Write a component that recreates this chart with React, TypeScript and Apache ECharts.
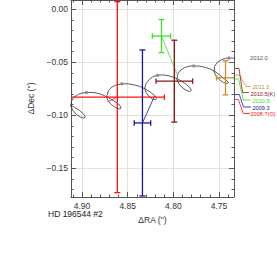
import React, { useEffect, useRef } from 'react';
import * as echarts from 'echarts';

// Model orbit (apparent path)
const orbitRA = [
  4.92737, 4.9208, 4.91423, 4.90821, 4.90274, 4.89836, 4.89617, 4.89781, 4.90164, 4.90602,
  4.90985, 4.91204, 4.9115, 4.90876, 4.90383, 4.89891, 4.89453,
  4.88796, 4.88139, 4.87591, 4.87044, 4.86496, 4.86004, 4.8573, 4.85785, 4.86058, 4.86442,
  4.8688, 4.87208, 4.87263, 4.87099, 4.86715, 4.86223, 4.8562,
  4.84963, 4.84307, 4.8365, 4.83047, 4.825, 4.82062, 4.81843, 4.81952, 4.82281, 4.82664,
  4.82993, 4.83124, 4.82993, 4.82609, 4.82226, 4.81734,
  4.81131, 4.80474, 4.79818, 4.79215, 4.78668, 4.7823, 4.78011, 4.78175, 4.78558, 4.78996,
  4.7938, 4.79599, 4.79544, 4.7927, 4.78777, 4.78285, 4.7777,
  4.7719, 4.76587, 4.75985, 4.75438, 4.74945, 4.74507, 4.74124, 4.7396, 4.74124, 4.74507,
  4.74945, 4.75329, 4.75547, 4.75493, 4.75219, 4.74727, 4.74289, 4.73851, 4.73248,
];
const orbitDec = [
  -0.087, -0.08793, -0.08981, -0.09234, -0.09543, -0.09862, -0.10143, -0.10265, -0.10172, -0.09918,
  -0.09562, -0.0914, -0.08672, -0.08297, -0.08015, -0.07884, -0.07847,
  -0.07847, -0.0794, -0.08128, -0.08362, -0.08643, -0.08925, -0.09206, -0.09393, -0.09393, -0.09206,
  -0.08925, -0.0855, -0.08128, -0.07659, -0.07331, -0.07125, -0.07031,
  -0.07031, -0.07125, -0.07284, -0.07537, -0.07819, -0.08128, -0.08409, -0.0855, -0.08475, -0.08222,
  -0.07847, -0.07425, -0.07003, -0.066, -0.06347, -0.06225,
  -0.06187, -0.06281, -0.06469, -0.06722, -0.07031, -0.0735, -0.07631, -0.07753, -0.07659, -0.07406,
  -0.0705, -0.06628, -0.06159, -0.05784, -0.05503, -0.05372, -0.05344,
  -0.05362, -0.05456, -0.05625, -0.05878, -0.06187, -0.06506, -0.06769, -0.06909, -0.07003, -0.06909,
  -0.06656, -0.063, -0.05878, -0.05409, -0.05034, -0.04753, -0.04631, -0.04594, -0.04603,
];

// Yearly markers on the orbit
const epochRA = [4.89507, 4.8562, 4.81734, 4.7777, 4.73906];
const epochDec = [-0.07847, -0.07031, -0.06225, -0.05344, -0.04594];

// Measurements
const obsLabels = ['2008.7(O)', '2009.3', '2010.5(K)', '2010.8', '2011.3'];
const obsRA = [4.8613, 4.8338, 4.7989, 4.813, 4.7429];
const obsDec = [-0.0829, -0.1072, -0.0678, -0.0253, -0.0646];
const obsRAErr = [0.0515, 0.009, 0.02, 0.01, 0.0098];
const obsDecErr = [0.09, 0.0688, 0.0386, 0.0156, 0.0161];
// Predicted positions the measurements are linked to
const modelRA: (number | null)[] = [4.8719, 4.8204, null, 4.7954, null];
const modelDec: (number | null)[] = [-0.0872, -0.0816, null, -0.0621, null];

const xTicks = [4.9, 4.85, 4.8, 4.75];
const yTicks = [0.0, -0.05, -0.1, -0.15];
const endLabel = '2012.0';
const titleText = 'HD 196544 #2';

// styles
const obsColors = ['#ff1010', '#1515a0', '#8e1616', '#3fdc2a', '#c9902a'];
const FONT = 'Liberation Sans, Arial, sans-serif';
const AX = '#555';
// legend leader lines / label positions (pixel layout)
const legendLayout = [
  { idx: 4, pts: [[234, 75], [239.5, 75], [246, 86.5], [251, 86.5]], tx: 252.5, ty: 87 },
  { idx: 2, pts: [[234, 68.5], [239, 68.5], [242.5, 92.5], [249, 92.5]], tx: 250.5, ty: 93.5 },
  { idx: 3, pts: [[234, 79], [238.5, 79], [243.3, 100], [251, 100]], tx: 252.5, ty: 100.5 },
  { idx: 1, pts: [[234, 94.5], [239.3, 94.5], [243.5, 107], [251, 107]], tx: 252.5, ty: 107.5 },
  { idx: 0, pts: [[234, 99.5], [238.3, 99.5], [243.3, 113.5], [250, 113.5]], tx: 250.5, ty: 114 },
];

function fmt(v: number, ticks: number[]) {
  const hit = ticks.some((t) => Math.abs(t - v) < 1e-6);
  if (!hit) return '';
  const s = Math.abs(v).toFixed(2);
  return v < -1e-9 ? '\u2212' + s : s;
}

export default function App() {
  const ref = useRef<HTMLDivElement>(null);
  useEffect(() => {
    if (!ref.current) return;
    const chart = echarts.init(ref.current, null, { renderer: 'svg' });

    const xMin = 4.7336;
    const xMax = 4.912;
    const yMin = -0.177;
    const yMax = 0.0087;

    const tickCommon = {
      axisLine: { show: true, onZero: false, lineStyle: { color: AX, width: 1 } },
      axisTick: { show: true, inside: true, length: 5, lineStyle: { color: AX, width: 1 } },
      minorTick: { show: true, splitNumber: 5, length: 2.5, lineStyle: { color: AX, width: 1 } },
      minorSplitLine: { show: false },
    };

    const series: any[] = [
      {
        type: 'line',
        data: orbitRA.map((r, i) => [r, orbitDec[i]]),
        showSymbol: false,
        symbol: 'none',
        clip: true,
        lineStyle: { color: '#333', width: 0.8 },
        z: 2,
        silent: true,
      },
      {
        type: 'scatter',
        data: epochRA.map((r, i) => [r, epochDec[i]]),
        symbol: 'circle',
        symbolSize: 3.5,
        itemStyle: { color: '#888' },
        z: 3,
        silent: true,
      },
    ];

    obsRA.forEach((r, i) => {
      if (modelRA[i] == null) return;
      series.push({
        type: 'line',
        data: [
          [r, obsDec[i]],
          [modelRA[i], modelDec[i]],
        ],
        showSymbol: false,
        symbol: 'none',
        clip: true,
        lineStyle: { color: obsColors[i], width: 0.8 },
        z: 4,
        silent: true,
      });
    });

    series.push({
      type: 'custom',
      clip: true,
      z: 5,
      silent: true,
      data: obsRA.map((r, i) => [r, obsDec[i], obsRAErr[i], obsDecErr[i]]),
      renderItem: (params: any, api: any) => {
        const x = api.value(0);
        const y = api.value(1);
        const ex = api.value(2);
        const ey = api.value(3);
        const c = api.coord([x, y]);
        const l = api.coord([x + ex, y]);
        const r = api.coord([x - ex, y]);
        const t = api.coord([x, y + ey]);
        const b = api.coord([x, y - ey]);
        const color = obsColors[params.dataIndex];
        const st = { stroke: color, lineWidth: 1.3 };
        const cw = 3;
        const ch = 2.7;
        return {
          type: 'group',
          children: [
            { type: 'line', shape: { x1: l[0], y1: c[1], x2: r[0], y2: c[1] }, style: st },
            { type: 'line', shape: { x1: l[0], y1: c[1] - ch, x2: l[0], y2: c[1] + ch }, style: st },
            { type: 'line', shape: { x1: r[0], y1: c[1] - ch, x2: r[0], y2: c[1] + ch }, style: st },
            { type: 'line', shape: { x1: c[0], y1: t[1], x2: c[0], y2: b[1] }, style: st },
            { type: 'line', shape: { x1: c[0] - cw, y1: t[1], x2: c[0] + cw, y2: t[1] }, style: st },
            { type: 'line', shape: { x1: c[0] - cw, y1: b[1], x2: c[0] + cw, y2: b[1] }, style: st },
          ],
        };
      },
    });

    const graphic: any[] = [
      {
        type: 'text',
        x: 48,
        y: 214,
        style: { text: titleText, fill: '#222', fontSize: 8.5, fontFamily: FONT, verticalAlign: 'middle' },
      },
      {
        type: 'text',
        x: 250,
        y: 58,
        style: { text: endLabel, fill: '#555', fontSize: 5.8, fontFamily: FONT, verticalAlign: 'middle' },
      },
    ];
    legendLayout.forEach((g) => {
      graphic.push({
        type: 'polyline',
        shape: { points: g.pts },
        style: { stroke: obsColors[g.idx], lineWidth: 0.8, fill: null },
      });
      graphic.push({
        type: 'text',
        x: g.tx,
        y: g.ty,
        style: {
          text: obsLabels[g.idx],
          fill: obsColors[g.idx],
          fontSize: 5.6,
          fontFamily: FONT,
          verticalAlign: 'middle',
        },
      });
    });

    chart.setOption({
      animation: false,
      backgroundColor: '#fff',
      grid: { left: 71, top: -1, width: 163, height: 198, containLabel: false },
      xAxis: [
        {
          type: 'value',
          position: 'bottom',
          min: xMin,
          max: xMax,
          inverse: true,
          splitNumber: 4,
          ...tickCommon,
          splitLine: { show: true, lineStyle: { color: '#e2e2e2', width: 1 } },
          axisLabel: {
            show: true,
            color: '#333',
            fontSize: 8.5,
            fontFamily: FONT,
            margin: 4,
            formatter: (v: number) => fmt(v, xTicks),
          },
          name: "\u0394RA ('')",
          nameLocation: 'middle',
          nameGap: 18,
          nameTextStyle: { color: '#333', fontSize: 8.5, fontFamily: FONT },
        },
        {
          type: 'value',
          position: 'top',
          min: xMin,
          max: xMax,
          inverse: true,
          splitNumber: 4,
          ...tickCommon,
          splitLine: { show: false },
          axisLabel: { show: false },
        },
      ],
      yAxis: [
        {
          type: 'value',
          position: 'left',
          min: yMin,
          max: yMax,
          splitNumber: 4,
          ...tickCommon,
          splitLine: { show: true, lineStyle: { color: '#e2e2e2', width: 1 } },
          axisLabel: {
            show: true,
            color: '#333',
            fontSize: 8.5,
            fontFamily: FONT,
            margin: 3,
            formatter: (v: number) => fmt(v, yTicks),
          },
          name: "\u0394Dec ('')",
          nameLocation: 'middle',
          nameGap: 31,
          nameTextStyle: { color: '#333', fontSize: 8.5, fontFamily: FONT },
        },
        {
          type: 'value',
          position: 'right',
          min: yMin,
          max: yMax,
          splitNumber: 4,
          ...tickCommon,
          splitLine: { show: false },
          axisLabel: { show: false },
        },
      ],
      series,
      graphic,
    });

    return () => chart.dispose();
  }, []);

  return (
    <div
      ref={ref}
      style={{ position: 'fixed', left: 0, top: 0, width: 277, height: 260, background: '#fff' }}
    />
  );
}
